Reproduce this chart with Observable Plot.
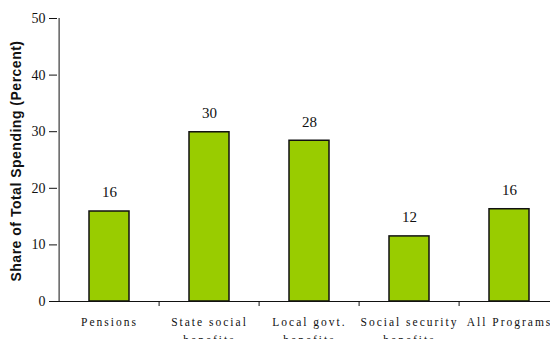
<!DOCTYPE html>
<html>
<head>
<meta charset="utf-8">
<script src="https://cdn.jsdelivr.net/npm/d3@7"></script>
<script src="https://cdn.jsdelivr.net/npm/@observablehq/plot@0.6"></script>
<style>
  html, body { margin: 0; padding: 0; background: #fff; }
  #chart svg { display: block; }
  #chart g[aria-label="x-axis tick label"] text { letter-spacing: 2px; }
  #chart g[aria-label="y-axis tick label"] text { font-family: 'Liberation Serif', 'Times New Roman', serif !important; font-variant: normal !important; }
  #chart .ylab text { letter-spacing: 0.5px; }
</style>
</head>
<body>
<div id="chart"></div>
<script>
const categories = ["Pensions", "State social\nbenefits", "Local govt.\nbenefits", "Social security\nbenefits", "All Programs"];
const values = [15.9, 29.9, 28.4, 11.5, 16.3];
const valueLabels = ["16", "30", "28", "12", "16"];
const yTicks = [0, 10, 20, 30, 40, 50];
const yLabel = "Share of Total Spending (Percent)";

const data = categories.map((c, i) => ({category: c, value: values[i], label: valueLabels[i]}));

const W = 550, H = 339;
const mL = 57, mR = -11, mT = 18, mB = 38;
const serif = "'Liberation Serif', 'Times New Roman', serif";
const sans = "'Liberation Sans', Arial, sans-serif";

const plot = Plot.plot({
  width: W,
  height: H,
  marginLeft: mL,
  marginRight: mR,
  marginTop: mT,
  marginBottom: mB,
  style: {fontFamily: serif, background: "#fff", overflow: "visible"},
  x: {domain: categories, paddingInner: 0.6, paddingOuter: 0.3, label: null},
  y: {domain: [0, 50], label: null},
  marks: [
    Plot.barY(data, {x: "category", y: "value", fill: "#99cc00", stroke: "#111", strokeWidth: 1.5}),
    Plot.text(data, {x: "category", y: "value", text: "label", dy: -19, fontSize: 15, fill: "#111", fontFamily: serif}),
    Plot.axisY({ticks: yTicks, tickSize: 8, tickPadding: 4, fontSize: 14, fontFamily: serif, label: null, stroke: "#111", fill: "#111"}),
    Plot.axisX({tickSize: 0, tickPadding: 12, fontSize: 11.5, lineHeight: 1.55, fontFamily: serif, label: null, fill: "#111"}),
    Plot.ruleY([0], {stroke: "#111", strokeWidth: 1}),
    Plot.ruleX([categories[0]], {x: d => d, dx: -50.4, y1: 0, y2: 50, stroke: "#111", strokeWidth: 1}),
    Plot.ruleX(categories.slice(1), {x: d => d, dx: -50.4, y1: 0, y2: 0, insetBottom: -5, stroke: "#111", strokeWidth: 1}),
    Plot.text([yLabel], {frameAnchor: "left", textAnchor: "middle", rotate: -90, dx: -41, dy: 1, text: d => d, fontSize: 14, fontWeight: "bold", fontFamily: sans, fill: "#111", className: "ylab"})
  ]
});
document.getElementById("chart").appendChild(plot);
</script>
</body>
</html>
